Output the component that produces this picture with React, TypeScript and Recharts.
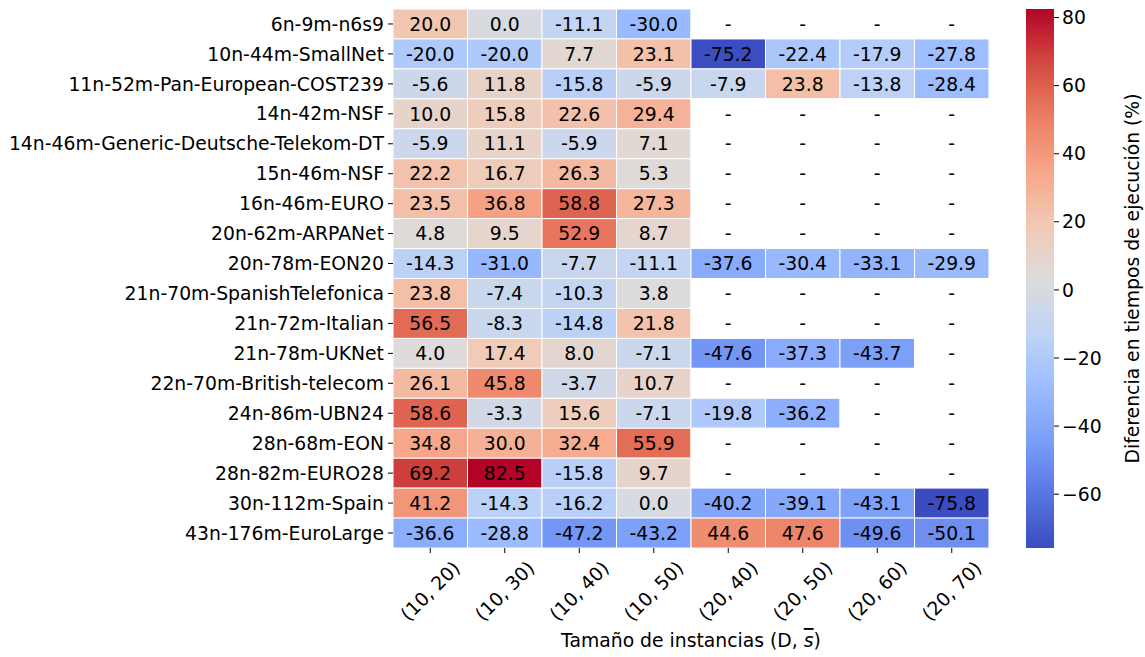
import { Bar, BarChart, Cell, LabelList, XAxis, YAxis } from "recharts";

const FONT = "DejaVu Sans, Verdana, sans-serif";
const FS = 18.8;

const ROWS = [
  "6n-9m-n6s9",
  "10n-44m-SmallNet",
  "11n-52m-Pan-European-COST239",
  "14n-42m-NSF",
  "14n-46m-Generic-Deutsche-Telekom-DT",
  "15n-46m-NSF",
  "16n-46m-EURO",
  "20n-62m-ARPANet",
  "20n-78m-EON20",
  "21n-70m-SpanishTelefonica",
  "21n-72m-Italian",
  "21n-78m-UKNet",
  "22n-70m-British-telecom",
  "24n-86m-UBN24",
  "28n-68m-EON",
  "28n-82m-EURO28",
  "30n-112m-Spain",
  "43n-176m-EuroLarge",
];

const COLUMNS = ["(10, 20)", "(10, 30)", "(10, 40)", "(10, 50)", "(20, 40)", "(20, 50)", "(20, 60)", "(20, 70)"];

// one array per column, top row first; null = no data ("-")
const v1020 = [20.0, -20.0, -5.6, 10.0, -5.9, 22.2, 23.5, 4.8, -14.3, 23.8, 56.5, 4.0, 26.1, 58.6, 34.8, 69.2, 41.2, -36.6];
const v1030 = [0.0, -20.0, 11.8, 15.8, 11.1, 16.7, 36.8, 9.5, -31.0, -7.4, -8.3, 17.4, 45.8, -3.3, 30.0, 82.5, -14.3, -28.8];
const v1040 = [-11.1, 7.7, -15.8, 22.6, -5.9, 26.3, 58.8, 52.9, -7.7, -10.3, -14.8, 8.0, -3.7, 15.6, 32.4, -15.8, -16.2, -47.2];
const v1050 = [-30.0, 23.1, -5.9, 29.4, 7.1, 5.3, 27.3, 8.7, -11.1, 3.8, 21.8, -7.1, 10.7, -7.1, 55.9, 9.7, 0.0, -43.2];
const v2040 = [null, -75.2, -7.9, null, null, null, null, null, -37.6, null, null, -47.6, null, -19.8, null, null, -40.2, 44.6];
const v2050 = [null, -22.4, 23.8, null, null, null, null, null, -30.4, null, null, -37.3, null, -36.2, null, null, -39.1, 47.6];
const v2060 = [null, -17.9, -13.8, null, null, null, null, null, -33.1, null, null, -43.7, null, null, null, null, -43.1, -49.6];
const v2070 = [null, -27.8, -28.4, null, null, null, null, null, -29.9, null, null, null, null, null, null, null, -75.8, -50.1];

const SERIES: (number | null)[][] = [v1020, v1030, v1040, v1050, v2040, v2050, v2060, v2070];

const VMIN = -75.8;
const VMAX = 82.5;
const CB_TICKS = [-60, -40, -20, 0, 20, 40, 60, 80];

// coolwarm, sampled every 0.1
const COOLWARM = [
  [58, 76, 192],
  [88, 118, 226],
  [123, 158, 248],
  [157, 189, 255],
  [192, 212, 245],
  [221, 220, 220],
  [242, 201, 180],
  [246, 166, 137],
  [235, 125, 98],
  [210, 74, 64],
  [179, 3, 38],
];

function coolwarm(t: number) {
  const c = Math.max(0, Math.min(1, t)) * (COOLWARM.length - 1);
  const i = Math.min(Math.floor(c), COOLWARM.length - 2);
  const f = c - i;
  const a = COOLWARM[i];
  const b = COOLWARM[i + 1];
  const mix = (k: number) => Math.round(a[k] + (b[k] - a[k]) * f);
  return `rgb(${mix(0)},${mix(1)},${mix(2)})`;
}

const colorFor = (v: number | null) => (v === null ? "#ffffff" : coolwarm((v - VMIN) / (VMAX - VMIN)));

// each cell is one unit wide on the x scale
const tableData = ROWS.map((name, r) => {
  const row: Record<string, string | number> = { name };
  SERIES.forEach((s, c) => {
    const v = s[r];
    row[`c${c}`] = 1;
    row[`t${c}`] = v === null ? "-" : v.toFixed(1);
  });
  return row;
});

const XTick = (props: any) => {
  const { x, y, payload } = props;
  const label = COLUMNS[Math.round(payload.value - 0.5)];
  const cy = y + 34;
  return (
    <text
      x={x}
      y={cy}
      transform={`rotate(-45, ${x}, ${cy})`}
      textAnchor="middle"
      dominantBaseline="central"
      fontSize={FS}
      fontFamily={FONT}
      fill="#000"
    >
      {label}
    </text>
  );
};

const XTitle = (props: any) => {
  const { viewBox } = props;
  const cx = viewBox.x + viewBox.width / 2;
  return (
    <text x={cx} y={viewBox.y + 92} textAnchor="middle" dominantBaseline="central" fontSize={FS} fontFamily={FONT} fill="#000">
      Tamaño de instancias (D,{" "}
      <tspan fontStyle="italic" textDecoration="overline">
        s
      </tspan>
      )
    </text>
  );
};

const CbTitle = (props: any) => {
  const { viewBox } = props;
  const x = viewBox.x + 78;
  const y = viewBox.y + viewBox.height / 2;
  return (
    <text
      x={x}
      y={y}
      transform={`rotate(-90, ${x}, ${y})`}
      textAnchor="middle"
      dominantBaseline="central"
      fontSize={FS}
      fontFamily={FONT}
      fill="#000"
    >
      Diferencia en tiempos de ejecución (%)
    </text>
  );
};

const colorbarData = [{ name: "cb", range: [VMIN, VMAX] }];

// gradient runs top (vmax) to bottom (vmin), offsets must increase
const cbStops = COOLWARM.map((c, i) => ({
  offset: 1 - i / (COOLWARM.length - 1),
  color: `rgb(${c[0]},${c[1]},${c[2]})`,
})).reverse();

export default function App() {
  return (
    <div style={{ position: "absolute", left: 0, top: 0, width: 1145, height: 657, background: "#fff" }}>
      <div style={{ position: "absolute", left: 0, top: 0 }}>
        <BarChart
          width={1000}
          height={657}
          data={tableData}
          layout="vertical"
          barCategoryGap={0}
          barGap={0}
          margin={{ top: 9, right: 11, bottom: 0, left: 0 }}
        >
          <XAxis
            type="number"
            domain={[0, 8]}
            ticks={[0.5, 1.5, 2.5, 3.5, 4.5, 5.5, 6.5, 7.5]}
            allowDataOverflow
            axisLine={false}
            tickSize={5}
            tickMargin={4}
            tickLine={{ stroke: "#000" }}
            tick={<XTick />}
            height={109}
            interval={0}
            label={<XTitle />}
          />
          <YAxis
            type="category"
            dataKey="name"
            width={393}
            axisLine={false}
            tickSize={5}
            tickMargin={4}
            tickLine={{ stroke: "#000" }}
            interval={0}
            tick={{ fontSize: FS, fontFamily: FONT, fill: "#000" }}
          />
          {SERIES.map((s, c) => (
            <Bar key={c} dataKey={`c${c}`} stackId="cells" stroke="#ffffff" strokeWidth={1} isAnimationActive={false}>
              {s.map((v, r) => (
                <Cell key={r} fill={colorFor(v)} />
              ))}
              <LabelList dataKey={`t${c}`} position="center" fill="#000" fontSize={FS} fontFamily={FONT} />
            </Bar>
          ))}
        </BarChart>
      </div>
      <div style={{ position: "absolute", left: 1000, top: 0 }}>
        <BarChart
          width={145}
          height={657}
          data={colorbarData}
          barCategoryGap={0}
          margin={{ top: 9, right: 0, bottom: 109, left: 26 }}
        >
          <defs>
            <linearGradient id="cbGrad" x1="0" y1="0" x2="0" y2="1">
              {cbStops.map((s, i) => (
                <stop key={i} offset={s.offset} stopColor={s.color} />
              ))}
            </linearGradient>
          </defs>
          <XAxis dataKey="name" type="category" hide />
          <YAxis
            orientation="right"
            type="number"
            domain={[VMIN, VMAX]}
            allowDataOverflow
            ticks={CB_TICKS}
            width={91}
            axisLine={false}
            tickSize={5}
            tickMargin={3}
            tickLine={{ stroke: "#000" }}
            tick={{ fontSize: FS, fontFamily: FONT, fill: "#000", textAnchor: "start" }}
            tickFormatter={(v: number) => (v < 0 ? `\u2212${Math.abs(v)}` : `${v}`)}
            label={<CbTitle />}
          />
          <Bar dataKey="range" fill="url(#cbGrad)" isAnimationActive={false} />
        </BarChart>
      </div>
    </div>
  );
}
